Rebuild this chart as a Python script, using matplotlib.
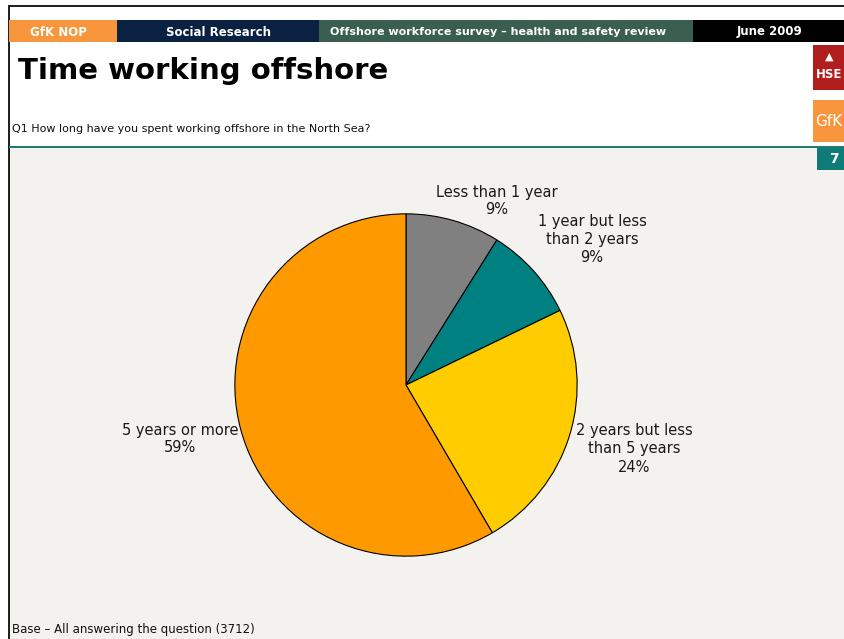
import matplotlib
matplotlib.use("Agg")
import matplotlib.pyplot as plt
from matplotlib.patches import Rectangle

# Survey responses: time spent working offshore
categories = ["Less than 1 year", "1 year but less\nthan 2 years",
              "2 years but less\nthan 5 years", "5 years or more"]
shares = [9, 9, 24, 59]
colors = ["#808080", "#008080", "#ffcc00", "#ff9900"]

W, H = 845, 639
fig = plt.figure(figsize=(W / 100, H / 100), dpi=100)
fig.patch.set_facecolor("white")


def px(x, y):
    """Pixel coords (top-left origin) -> figure fraction."""
    return x / W, 1 - y / H


def rect(x0, y0, x1, y1, color):
    fig.patches.append(Rectangle((x0 / W, 1 - y1 / H), (x1 - x0) / W, (y1 - y0) / H,
                                 transform=fig.transFigure, facecolor=color,
                                 edgecolor="none", zorder=-1))


# Body background and frame
rect(9, 148, 845, 639, "#f3f2ee")
rect(8, 5, 845, 7, "#222222")
rect(8, 5, 10, 639, "#222222")
rect(9, 146, 845, 148, "#1f7a78")

# Header band
for x0, x1, c in [(9, 117, "#f7963c"), (117, 319, "#0b2142"),
                  (319, 693, "#3a5e50"), (693, 845, "#000000")]:
    rect(x0, 20, x1, 42, c)
fig.text(*px(58, 32), "GfK NOP", color="white", fontsize=8.5, fontweight="bold",
         ha="center", va="center", family="DejaVu Sans")
fig.text(*px(218, 32), "Social Research", color="white", fontsize=8.5, fontweight="bold",
         ha="center", va="center", family="DejaVu Sans")
fig.text(*px(330, 32), "Offshore workforce survey \u2013 health and safety review",
         color="white", fontsize=8, fontweight="bold", ha="left", va="center",
         family="DejaVu Sans")
fig.text(*px(770, 32), "June 2009", color="white", fontsize=8.5, fontweight="bold",
         ha="center", va="center", family="DejaVu Sans")

# Logos at the right edge
rect(813, 45, 845, 90, "#b01e1e")
fig.text(*px(829, 75), "HSE", color="white", fontsize=8.5, fontweight="bold",
         ha="center", va="center", family="DejaVu Sans")
fig.text(*px(829, 57), "\u25B2", color="white", fontsize=8, ha="center", va="center")
rect(813, 100, 845, 142, "#f7963c")
fig.text(*px(815, 121), "GfK", color="white", fontsize=11, ha="left", va="center",
         family="DejaVu Sans")
rect(817, 148, 845, 170, "#0f7b78")
fig.text(*px(834, 159), "7", color="white", fontsize=10, fontweight="bold",
         ha="center", va="center", family="DejaVu Sans")

# Titles
fig.text(*px(18, 71), "Time working offshore", fontsize=21, fontweight="bold",
         ha="left", va="center", family="DejaVu Sans", color="black")
fig.text(*px(12, 129), "Q1 How long have you spent working offshore in the North Sea?",
         fontsize=8, ha="left", va="center", family="DejaVu Sans", color="#111111")
fig.text(*px(12, 630), "Base \u2013 All answering the question (3712)",
         fontsize=8.5, ha="left", va="center", family="DejaVu Sans", color="#111111")

# Pie chart
cx, cy, r = 406, 385, 172
ax = fig.add_axes([(cx - r) / W, (H - cy - r) / H, 2 * r / W, 2 * r / H])
ax.set_zorder(2)
ax.pie(shares, colors=colors, startangle=90, counterclock=False,
       wedgeprops=dict(edgecolor="black", linewidth=0.8))
ax.set_xlim(-1.005, 1.005)
ax.set_ylim(-1.005, 1.005)
ax.set_aspect("equal")
ax.axis("off")

# Category labels with percentages
label_pos = [(497, 201), (592, 239), (634, 449), (180, 439)]
for (lx, ly), cat, s in zip(label_pos, categories, shares):
    fig.text(*px(lx, ly), f"{cat}\n{s}%", fontsize=10.5, ha="center", va="center",
             family="DejaVu Sans", color="#1a1a1a", linespacing=1.25)

fig.savefig("out.png", dpi=100, facecolor=fig.get_facecolor())
